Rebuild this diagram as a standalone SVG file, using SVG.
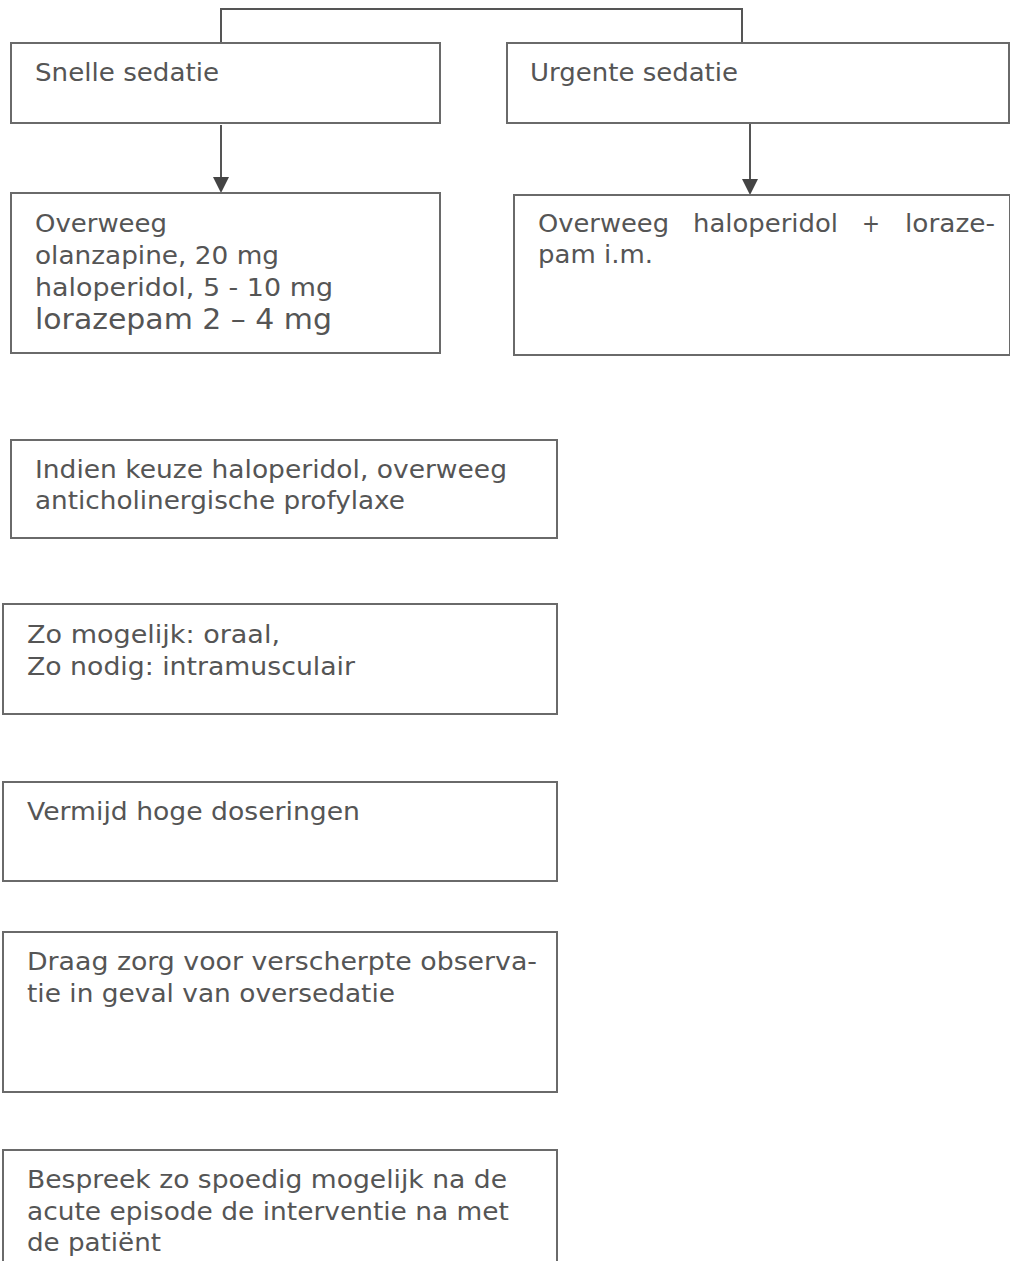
<svg xmlns="http://www.w3.org/2000/svg" width="1010" height="1261" viewBox="0 0 1010 1261">
<style>
.box{fill:#fff;stroke:#6a6a6a;stroke-width:2}
.t{font-family:"DejaVu Sans","Verdana",sans-serif;font-size:25.5px;fill:#555}
.big{font-size:28px}
.conn{fill:none;stroke:#555;stroke-width:2}
.head{fill:#444}
</style>
<rect width="1010" height="1261" fill="#fff"/>
<g id="connectors">
<path class="conn" d="M221,43 V9 H742 V43"/>
<path class="conn" d="M221,125 V178"/>
<path class="head" d="M213,177 L229,177 L221,193 Z"/>
<path class="conn" d="M750,118 V180"/>
<path class="head" d="M742,179 L758,179 L750,195 Z"/>
</g>
<g id="snelle">
<rect class="box" x="11" y="43" width="429" height="80"/>
<text class="t" x="35" y="81" textLength="184" lengthAdjust="spacingAndGlyphs">Snelle sedatie</text>
</g>
<g id="urgente">
<rect class="box" x="507" y="43" width="502" height="80"/>
<text class="t" x="530" y="81" textLength="208" lengthAdjust="spacingAndGlyphs">Urgente sedatie</text>
</g>
<g id="overweeg-snel">
<rect class="box" x="11" y="193" width="429" height="160"/>
<text class="t" x="35" y="232" textLength="132" lengthAdjust="spacingAndGlyphs">Overweeg</text>
<text class="t" x="35" y="264" textLength="244" lengthAdjust="spacingAndGlyphs">olanzapine, 20 mg</text>
<text class="t" x="35" y="296" textLength="298" lengthAdjust="spacingAndGlyphs">haloperidol, 5 - 10 mg</text>
<text class="t big" x="35" y="329" textLength="297" lengthAdjust="spacingAndGlyphs">lorazepam 2 – 4 mg</text>
</g>
<g id="overweeg-urgent">
<rect class="box" x="514" y="195" width="496" height="160"/>
<text class="t" y="232"><tspan x="538" textLength="131" lengthAdjust="spacingAndGlyphs">Overweeg</tspan><tspan x="693" textLength="145" lengthAdjust="spacingAndGlyphs">haloperidol</tspan><tspan x="862" textLength="18" lengthAdjust="spacingAndGlyphs">+</tspan><tspan x="905" textLength="90" lengthAdjust="spacingAndGlyphs">loraze-</tspan></text>
<text class="t" x="538" y="263" textLength="115" lengthAdjust="spacingAndGlyphs">pam i.m.</text>
</g>
<g id="indien">
<rect class="box" x="11" y="440" width="546" height="98"/>
<text class="t" x="35" y="478" textLength="472" lengthAdjust="spacingAndGlyphs">Indien keuze haloperidol, overweeg</text>
<text class="t" x="35" y="509" textLength="370" lengthAdjust="spacingAndGlyphs">anticholinergische profylaxe</text>
</g>
<g id="zomogelijk">
<rect class="box" x="3" y="604" width="554" height="110"/>
<text class="t" x="27" y="643" textLength="253" lengthAdjust="spacingAndGlyphs">Zo mogelijk: oraal,</text>
<text class="t" x="27" y="675" textLength="328" lengthAdjust="spacingAndGlyphs">Zo nodig: intramusculair</text>
</g>
<g id="vermijd">
<rect class="box" x="3" y="782" width="554" height="99"/>
<text class="t" x="27" y="820" textLength="333" lengthAdjust="spacingAndGlyphs">Vermijd hoge doseringen</text>
</g>
<g id="draag">
<rect class="box" x="3" y="932" width="554" height="160"/>
<text class="t" x="27" y="970" textLength="510" lengthAdjust="spacingAndGlyphs">Draag zorg voor verscherpte observa-</text>
<text class="t" x="27" y="1002" textLength="368" lengthAdjust="spacingAndGlyphs">tie in geval van oversedatie</text>
</g>
<g id="bespreek">
<rect class="box" x="3" y="1150" width="554" height="125"/>
<text class="t" x="27" y="1188" textLength="480" lengthAdjust="spacingAndGlyphs">Bespreek zo spoedig mogelijk na de</text>
<text class="t" x="27" y="1220" textLength="482" lengthAdjust="spacingAndGlyphs">acute episode de interventie na met</text>
<text class="t" x="27" y="1251" textLength="134" lengthAdjust="spacingAndGlyphs">de patiënt</text>
</g>
</svg>
